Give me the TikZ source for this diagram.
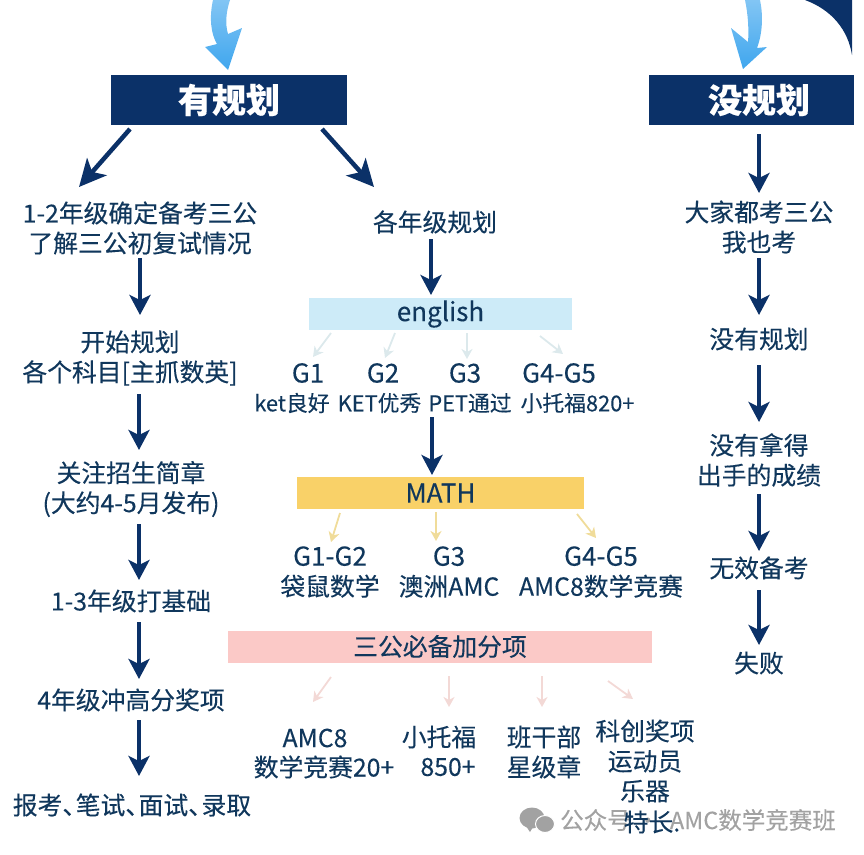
\documentclass[tikz,border=0pt]{standalone}
\usepackage{fontspec}
\setmainfont{Noto Sans CJK SC}[FakeBold=0.25]
\usetikzlibrary{arrows.meta}
\definecolor{navy}{HTML}{0B3168}
\definecolor{ink}{HTML}{10375C}
\definecolor{paleblue}{HTML}{CDEBF8}
\definecolor{gold}{HTML}{F9D168}
\definecolor{rose}{HTML}{FBC9C7}
\definecolor{arrowblue}{HTML}{DCE9EC}
\definecolor{arrowgold}{HTML}{F0DC9A}
\definecolor{arrowrose}{HTML}{F3D9D6}
\definecolor{wmgrey}{HTML}{A2A2A2}
\definecolor{arrowtop}{HTML}{3FA6EE}
\newcommand{\lnk}[5]{\draw[#1] ([shift={(#3)}]#2.center) -- ([shift={(#5)}]#4.center);}
\newcommand{\gsize}{\fontsize{26}{30}\selectfont}
\tikzset{
  txt/.style={inner sep=0pt,outer sep=0pt,text=ink,align=center,font=\fontsize{24.8}{30}\selectfont},
  small/.style={txt,font=\fontsize{21.8}{30}\selectfont},
  gtxt/.style={txt,font=\gsize},
  header/.style={fill=navy,text=white,inner sep=0pt,minimum height=50,font=\fontsize{34}{36}\selectfont\bfseries},
  band/.style={inner sep=0pt,minimum height=32,text=ink,font=\fontsize{24.8}{30}\selectfont},
  bigarrow/.style={draw=navy,line width=4.5,-{Stealth[length=27,width=26,inset=7]}},
  downarrow/.style={draw=navy,line width=4,-{Stealth[length=20,width=21,inset=5]}},
  blueline/.style={draw=arrowblue,line width=1.8,-{Stealth[length=10,width=11,inset=3]}},
  goldline/.style={draw=arrowgold,line width=1.8,-{Stealth[length=10,width=11,inset=3]}},
  roseline/.style={draw=arrowrose,line width=1.8,-{Stealth[length=10,width=11,inset=3]}},
  swoosh/.style={top color=arrowtop!65!white,bottom color=arrowtop,draw=none}
}
\begin{document}
\begin{tikzpicture}[x=1pt,y=-1pt]
\useasboundingbox (0,0) rectangle (864,854);
% corner shape
\fill[navy] (805,0) .. controls (832,10) and (848,30) .. (852,55) -- (852,0) -- cycle;
% curved blue arrows from above
\shade[swoosh] (213,0) .. controls (209,18) and (211,34) .. (217,44) -- (205,47) -- (228,70)
  -- (242,28) -- (228,34) .. controls (225,24) and (226,12) .. (230,0) -- cycle;
\shade[swoosh] (745,0) .. controls (748,14) and (749,30) .. (748,42) -- (731,28) -- (743,69)
  -- (767,47) -- (757,48) .. controls (763,32) and (763,14) .. (760,0) -- cycle;
% headers
\node[header,minimum width=236] (h1) at (229,100) {有规划\hspace{4pt}};
\node[header,minimum width=205] (h2) at (751.5,100) {\hspace{15pt}没规划};
% left column
\node[txt] (l1) at (140,228) {1-2年级确定备考三公\\了解三公初复试情况};
\node[txt] (l2) at (130,358) {开始规划\\各个科目[主抓数英]};
\node[txt] (l3) at (131,489) {关注招生简章\\(大约4-5月发布)};
\node[txt] (l4) at (131,601) {1-3年级打基础};
\node[txt] (l5) at (131,700) {4年级冲高分奖项};
\node[txt] (l6) at (132,805) {报考、\hspace{-11.5pt}笔试、\hspace{-11.5pt}面试、\hspace{-11.5pt}录取};
% middle column
\node[txt] (m0) at (435,222) {各年级规划};
\node[band,fill=paleblue,minimum width=263,font=\gsize] (eng) at (440.5,314) {\raisebox{-1pt}{english}};
\node[gtxt] (g1) at (308,373) {G1};
\node[gtxt] (g2) at (383,373) {G2};
\node[gtxt] (g3) at (465,373) {G3};
\node[gtxt] (g4) at (559,373) {G4-G5};
\node[small] (e1) at (292,403) {ket良好};
\node[small] (e2) at (379.5,403) {KET优秀};
\node[small] (e3) at (470,403) {PET通过};
\node[small] (e4) at (577.5,403) {小托福820+};
\node[band,fill=gold,minimum width=287,font=\gsize] (math) at (440.5,493) {\raisebox{-2.5pt}{MATH}};
\node[txt] (mg1) at (330,572) {{\gsize G1-G2}\\袋鼠数学};
\node[txt] (mg2) at (449,572) {{\gsize G3}\\澳洲AMC};
\node[txt] (mg3) at (601,572) {{\gsize G4-G5}\\AMC8数学竞赛};
\node[band,fill=rose,minimum width=424] (pk) at (440,646.5) {三公必备加分项\hspace{80pt}};
\node[txt] (p1) at (315,738) {AMC8};
\node[txt] (p1b) at (324,767) {数学竞赛20+};
\node[txt] (p2) at (439,737) {小托福};
\node[txt] (p2b) at (448,767) {850+};
\node[txt] (p3) at (544,752) {班干部\\星级章};
\node[txt] (p4) at (645,761) {科创奖项\\运动员\\乐器};
% watermark
\fill[wmgrey] (532,818) ellipse [x radius=12.5,y radius=10.5];
\fill[wmgrey] (526,826) -- (530,832) -- (533,827) -- cycle;
\draw[fill=wmgrey,draw=white,line width=1] (545,824) ellipse [x radius=9.5,y radius=8.5];
\node[inner sep=0pt,text=wmgrey,font=\fontsize{23.5}{26}\selectfont,anchor=west] (wm1) at (560,820) {公众号 ·};
\node[inner sep=0pt,text=wmgrey,font=\fontsize{23.5}{26}\selectfont,anchor=east] (wm2) at (836,820) {AMC数学竞赛班};
\node[txt] (p5) at (652,822) {特长.};
% right column
\node[txt] (r1) at (759,227) {大家都考三公\\我也考};
\node[txt] (r2) at (759,339) {没有规划};
\node[txt] (r3) at (759,460) {没有拿得\\出手的成绩};
\node[txt] (r4) at (759,568) {无效备考};
\node[txt] (r5) at (759,663) {失败};
% connectors
\lnk{bigarrow}{h1}{-99,29}{l1}{-61,-41}
\lnk{bigarrow}{h1}{93,29}{m0}{-61,-35}
\lnk{downarrow}{l1}{0,30}{l2}{10,-43}
\lnk{downarrow}{l2}{9,36}{l3}{8,-39}
\lnk{downarrow}{l3}{8,35}{l4}{8,-21}
\lnk{downarrow}{l4}{8,21}{l5}{8,-21}
\lnk{downarrow}{l5}{8,20}{l6}{7,-29}
\lnk{downarrow}{m0}{-4,17}{eng}{-9.5,-19}
\lnk{blueline}{eng}{-109.5,19}{g1}{5,-16}
\lnk{blueline}{eng}{-45.5,19}{g2}{2,-15}
\lnk{blueline}{eng}{26.5,19}{g3}{2,-14}
\lnk{blueline}{eng}{99.5,22}{g4}{4,-19}
\lnk{downarrow}{e3}{-38,14}{math}{-8.5,-18}
\lnk{goldline}{math}{-100.5,20}{mg1}{1,-30}
\lnk{goldline}{math}{-4.5,19}{mg2}{-13,-31}
\lnk{goldline}{math}{136.5,21}{mg3}{-5,-34}
\lnk{roseline}{pk}{-109,30.5}{p1}{-2,-36}
\lnk{roseline}{pk}{9,29.5}{p2}{10,-30}
\lnk{roseline}{pk}{102,29.5}{p3}{-2,-45}
\lnk{roseline}{pk}{168,34.5}{p4}{-12,-62}
\lnk{downarrow}{h2}{7.5,34}{r1}{0,-34}
\lnk{downarrow}{r1}{0,31}{r2}{0,-24}
\lnk{downarrow}{r2}{0,26}{r3}{0,-38}
\lnk{downarrow}{r3}{0,34}{r4}{0,-17}
\lnk{downarrow}{r4}{0,22}{r5}{0,-18}
\end{tikzpicture}
\end{document}
